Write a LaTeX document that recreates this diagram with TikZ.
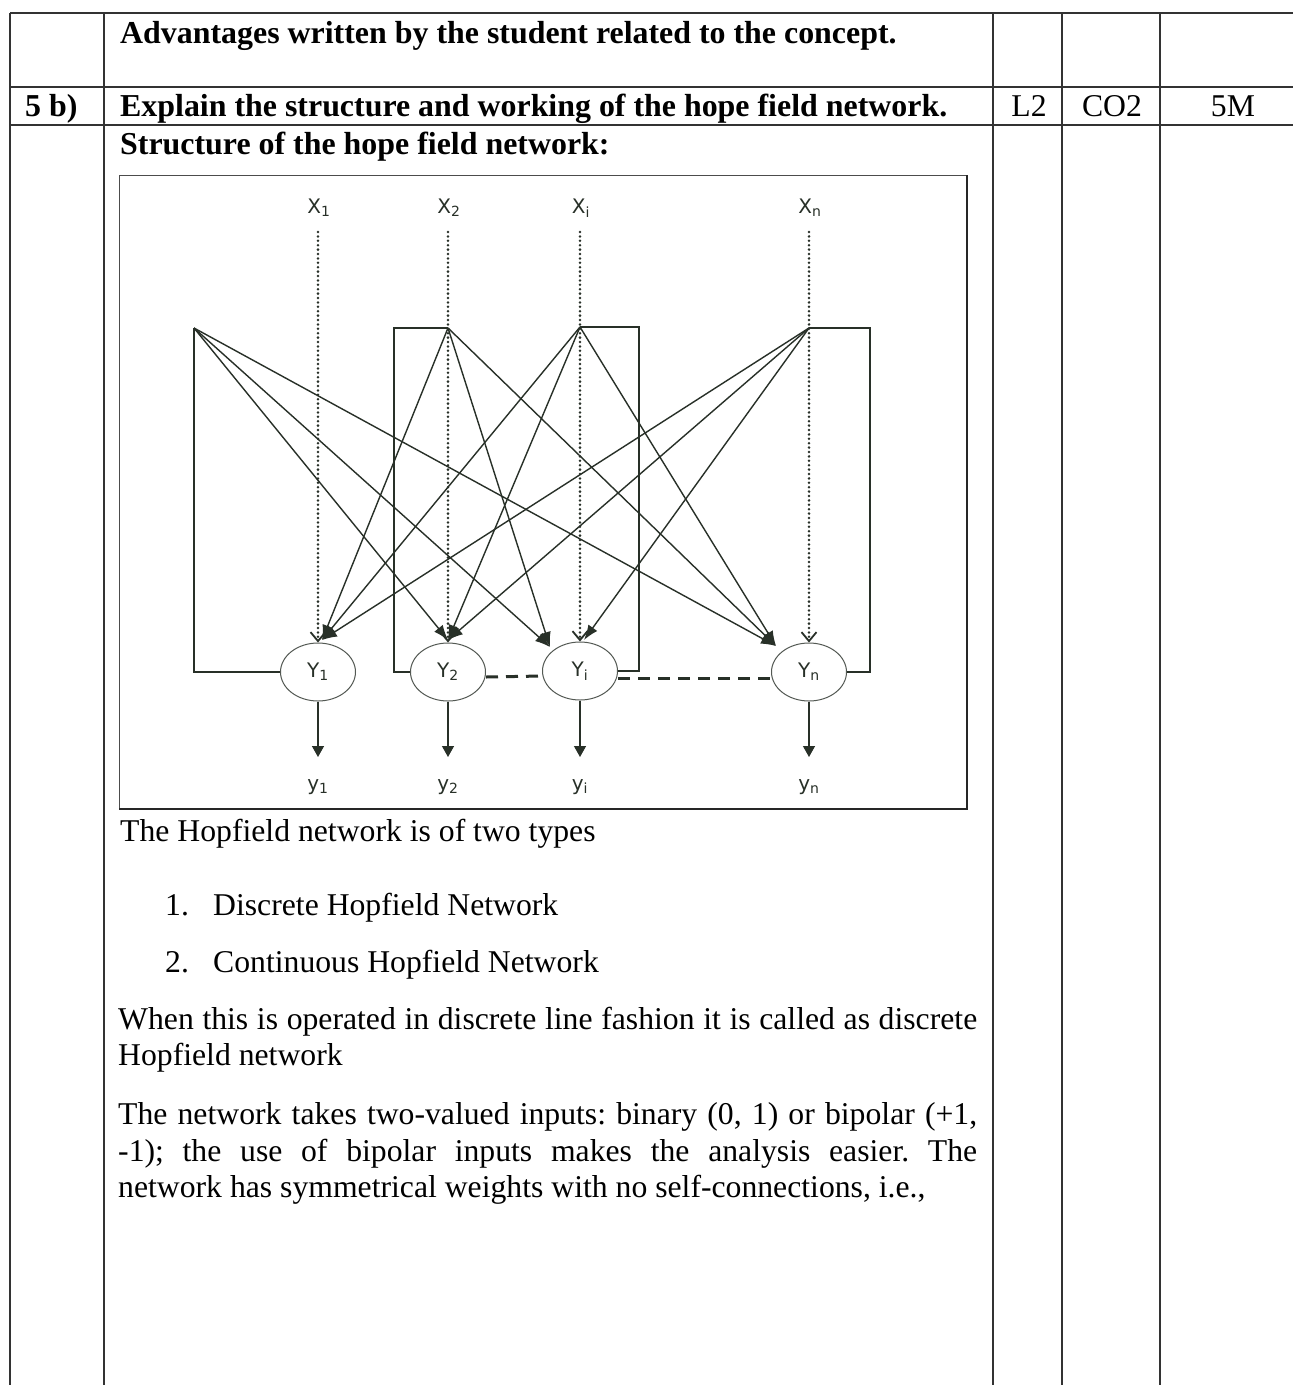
\documentclass[tikz,border=0pt]{standalone}
\usepackage{fontspec}
\setmainfont{Liberation Serif}
\newfontfamily\labfont{DejaVu Sans}
\usetikzlibrary{arrows.meta,shapes.geometric,calc}
\definecolor{ink}{RGB}{40,48,40}
\frenchspacing
\begin{document}
\begin{tikzpicture}[x=1pt,y=-1pt,
  tline/.style={line width=1.6pt, black!80},
  txt/.style={anchor=base west, inner sep=0pt, font=\fontsize{31.7}{36}\selectfont},
  btxt/.style={anchor=base west, inner sep=0pt, font=\fontsize{31.9}{36}\selectfont\bfseries},
  ctxt/.style={anchor=base, inner sep=0pt, font=\fontsize{31.7}{36}\selectfont},
  neuron/.style={ellipse, draw=ink!80, line width=1pt, minimum width=75pt, minimum height=58pt, inner sep=0pt, text=ink, font=\labfont\fontsize{20}{20}\selectfont},
  lab/.style={inner sep=0pt, font=\labfont\fontsize{20}{20}\selectfont, text=ink},
  fan/.style={ink, line width=1.4pt, -{Latex[length=15pt,width=11pt]}},
  dotarrow/.style={ink, line width=2.8pt, line cap=round, dash pattern=on 0pt off 4.4pt, -{Straight Barb[length=9pt,width=15pt,line width=1.8pt,line cap=butt]}},
  fb/.style={ink, line width=1.3pt},
  outarrow/.style={ink, line width=1.3pt, -{Triangle[length=11pt,width=12pt]}},
  dsh/.style={ink, line width=3pt, dash pattern=on 12pt off 8pt}
]
\useasboundingbox (0,0) rectangle (1293,1385);
\fill[white] (0,0) rectangle (1293,1385);

% table
\draw[tline] (10,13) -- (1293,13);
\draw[tline] (10,87) -- (1293,87);
\draw[tline] (10,125) -- (1293,125);
\draw[tline] (10,13) -- (10,1385);
\draw[tline] (104,13) -- (104,1385);
\draw[tline] (993,13) -- (993,1385);
\draw[tline] (1062,13) -- (1062,1385);
\draw[tline] (1160,13) -- (1160,1385);

\node[btxt] (adv) at (120,43) {Advantages written by the student related to the concept.};
\node[btxt] (qno) at (25,116) {5 b)};
\node[btxt] (q) at (120,116) {Explain the structure and working of the hope field network.};
\node[ctxt] (lvl) at (1029,116) {L2};
\node[ctxt] (co) at (1112,116) {CO2};
\node[ctxt] (mk) at (1233,116) {5M};
\node[btxt] (st) at (120,154) {Structure of the hope field network:};

% diagram frame
\draw[black!70, line width=1pt] (119,809) -- (119,175) -- (967,175);
\draw[black!85, line width=2pt] (967,175) -- (967,809) -- (119,809);

% neurons
\node[neuron] (Y1) at (318,672) {Y\textsubscript{1}};
\node[neuron] (Y2) at (448,672) {Y\textsubscript{2}};
\node[neuron] (Yi) at (580,671) {Y\textsubscript{i}};
\node[neuron] (Yn) at (809,672) {Y\textsubscript{n}};

% input labels
\node[lab] (x1) at (319,208) {X\textsubscript{1}};
\node[lab] (x2) at (449,208) {X\textsubscript{2}};
\node[lab] (xi) at (581,208) {X\textsubscript{i}};
\node[lab] (xn) at (810,208) {X\textsubscript{n}};

% output labels
\node[lab] (o1) at (318,787) {y\textsubscript{1}};
\node[lab] (o2) at (448,787) {y\textsubscript{2}};
\node[lab] (oi) at (580,787) {y\textsubscript{i}};
\node[lab] (on) at (809,787) {y\textsubscript{n}};

% coordinates
\coordinate (d1) at (318,232);
\coordinate (d2) at (448,232);
\coordinate (di) at (580,232);
\coordinate (dn) at (809,232);
\coordinate (J1) at (194,328);
\coordinate (J2) at (448,328);
\coordinate (Ji) at (580,327);
\coordinate (Jn) at (809,328);
\coordinate (e1) at (322,640);
\coordinate (e2) at (448,640);
\coordinate (eiL) at (550,647);
\coordinate (eiR) at (584,640);
\coordinate (en) at (776,646);
\coordinate (a1) at (318,757);
\coordinate (a2) at (448,757);
\coordinate (ai) at (580,757);
\coordinate (an) at (809,757);

% feedback lines
\draw[fb] (Y1.west) -| (J1);
\draw[fb] (Y2.west) -- (394,672) -- (394,328) -- (J2);
\draw[fb] (Yi.east) -- (639,671) -- (639,327) -- (Ji);
\draw[fb] (Yn.east) -- (870,672) -- (870,328) -- (Jn);

% dotted inputs
\draw[dotarrow] (d1) -- (Y1.north);
\draw[dotarrow] (d2) -- (Y2.north);
\draw[dotarrow] (di) -- (Yi.north);
\draw[dotarrow] (dn) -- (Yn.north);

% fan connections
\draw[fan] (J1) -- (e2);
\draw[fan] (J1) -- (eiL);
\draw[fan] (J1) -- (en);
\draw[fan] (J2) -- (e1);
\draw[fan] (J2) -- (eiL);
\draw[fan] (J2) -- (en);
\draw[fan] (Ji) -- (e1);
\draw[fan] (Ji) -- (e2);
\draw[fan] (Ji) -- (en);
\draw[fan] (Jn) -- (e1);
\draw[fan] (Jn) -- (e2);
\draw[fan] (Jn) -- (eiR);

% lateral dashed
\draw[dsh] ($(Y2.east)+(0,5)$) -- ($(Yi.west)+(0,5)$);
\draw[dsh] ($(Yi.east)+(0,7)$) -- ($(Yn.west)+(0,6)$);

% outputs
\draw[outarrow] (Y1.south) -- (a1);
\draw[outarrow] (Y2.south) -- (a2);
\draw[outarrow] (Yi.south) -- (ai);
\draw[outarrow] (Yn.south) -- (an);

% text below
\node[txt] (p1) at (120,841) {The Hopfield network is of two types};
\node[txt] (l1n) at (165,915) {1.};
\node[txt] (l1) at (213,915) {Discrete Hopfield Network};
\node[txt] (l2n) at (165,972) {2.};
\node[txt] (l2) at (213,972) {Continuous Hopfield Network};
\node[txt] (w1) at (118,1029) {\makebox[859pt][s]{When this is operated in discrete line fashion it is called as discrete}};
\node[txt] (w2) at (118,1065) {Hopfield network};
\node[txt] (n1) at (118,1124) {\makebox[859pt][s]{The network takes two-valued inputs: binary (0, 1) or bipolar (+1,}};
\node[txt] (n2) at (118,1161) {\makebox[859pt][s]{-1); the use of bipolar inputs makes the analysis easier. The}};
\node[txt] (n3) at (118,1197) {network has symmetrical weights with no self-connections, i.e.,};
\end{tikzpicture}
\end{document}
